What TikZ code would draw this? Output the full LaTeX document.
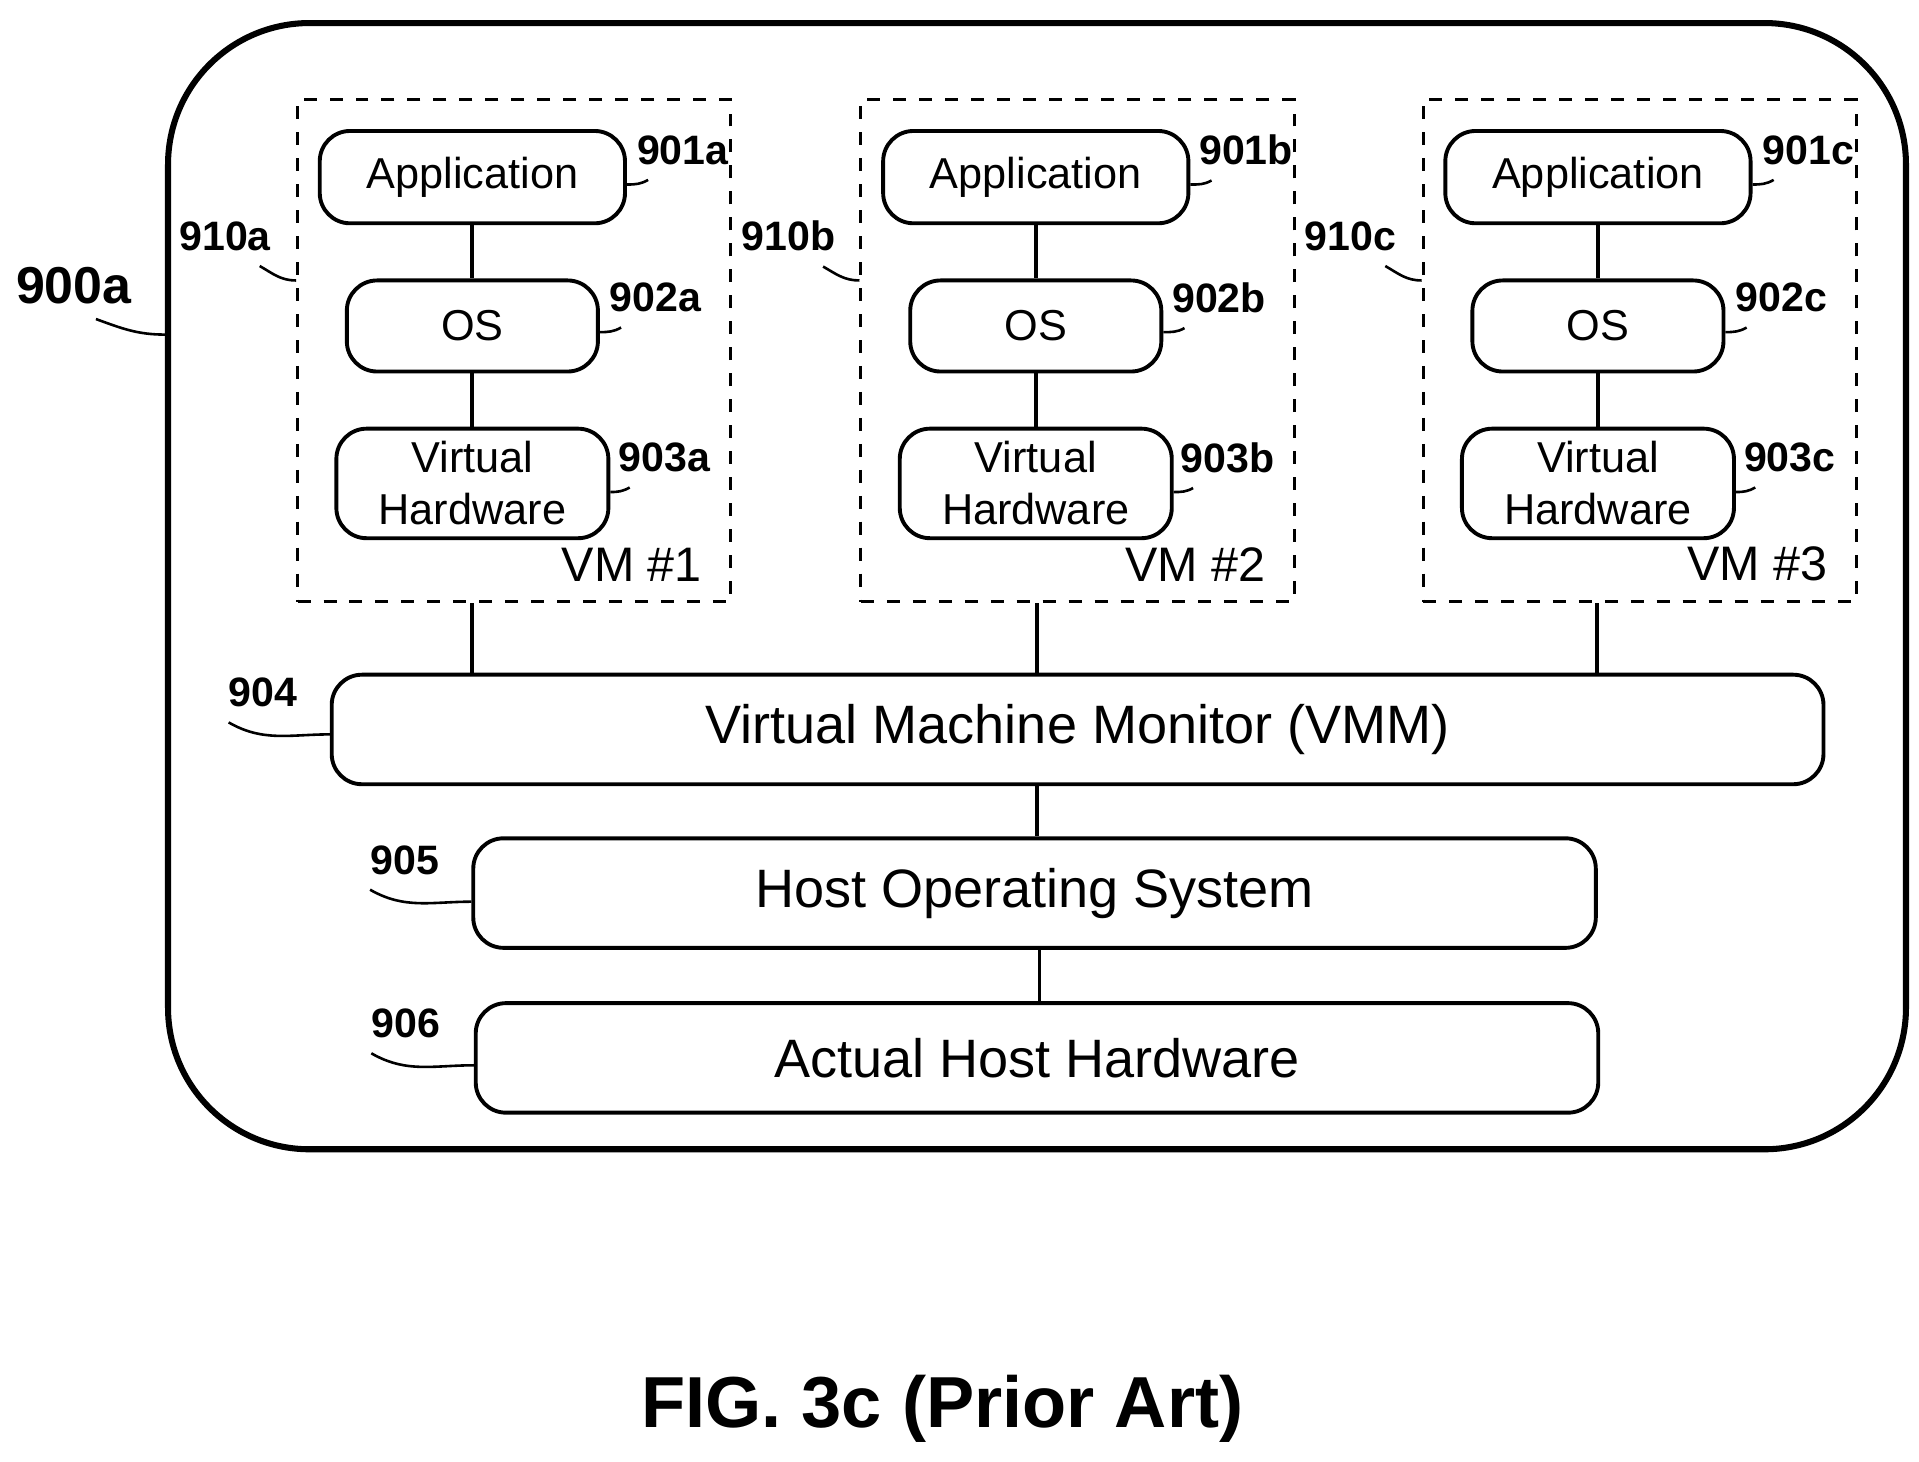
\documentclass[tikz,border=0pt]{standalone}
\usepackage{fontspec}
\setmainfont{Liberation Sans}
\begin{document}
\begin{tikzpicture}[
    x=0.01cm, y=-0.01cm,
    box/.style={draw, rounded corners=7pt, line width=0.9pt, align=center, inner sep=0pt},
    vm/.style={draw, dashed, line width=0.7pt, inner sep=0pt},
    ref/.style={font=\bfseries\fontsize{9.5}{11}\selectfont},
    lead/.style={line width=0.6pt}
]
\useasboundingbox (0,0) rectangle (1560,1188);

% Outer host box
\node[draw, line width=1.4pt, rounded corners=1.15cm, inner sep=0pt,
      minimum width=14.12cm, minimum height=9.15cm] (host) at (843,476.5) {};
\node[font=\bfseries\fontsize{12}{14}\selectfont] (l900) at (60,232) {900a};
\draw[lead] ([xshift=22]l900.south west) to[out=-20,in=180] (host.west |- 0,272);

% Virtual machines
\foreach \v/\dx/\n in {a/0/1, b/458/2, c/915/3} {
  \node[vm, minimum width=3.52cm, minimum height=4.08cm] (vm\v) at (418+\dx,285) {};
  \node[anchor=south east, font=\fontsize{11.2}{13}\selectfont] (vmlab\v) at (583+\dx,485) {VM \#\n};
  \node[box, minimum width=2.48cm, minimum height=0.75cm] (app\v) at (384+\dx,144) {Application};
  \node[box, minimum width=2.04cm, minimum height=0.74cm] (os\v) at (384+\dx,265) {OS};
  \node[box, minimum width=2.21cm, minimum height=0.89cm] (hw\v) at (384+\dx,393) {Virtual\\Hardware};
  \draw[line width=0.9pt] (app\v) -- (os\v);
  \draw[line width=0.9pt] (os\v) -- (hw\v);
  % reference numerals
  \node[ref] (r901\v) at (555+\dx,122) {901\v};
  \draw[lead] (app\v.east |- 0,150) to[out=0,in=210] ([xshift=-8]r901\v.south);
  \node[ref] (r902\v) at (533+\dx,242) {902\v};
  \draw[lead] (os\v.east |- 0,270) to[out=0,in=210] ([xshift=-8]r902\v.south);
  \node[ref] (r903\v) at (540+\dx,372) {903\v};
  \draw[lead] (hw\v.east |- 0,400) to[out=0,in=210] ([xshift=-8]r903\v.south);
  \node[ref] (r910\v) at (183+\dx,192) {910\v};
  \draw[lead] ([xshift=8]r910\v.south) to[out=-30,in=180] (vm\v.west |- 0,228);
}

% Lower layers
\node[box, minimum width=12.12cm, minimum height=0.89cm, font=\fontsize{12.5}{15}\selectfont] (vmm) at (876,593) {Virtual Machine Monitor (VMM)};
\node[box, minimum width=9.12cm, minimum height=0.89cm, font=\fontsize{12.5}{15}\selectfont] (hos) at (841,726) {Host Operating System};
\node[box, minimum width=9.12cm, minimum height=0.89cm, font=\fontsize{12.5}{15}\selectfont] (ahw) at (843,860) {Actual Host Hardware};

\foreach \v/\x in {a/384, b/843, c/1298}
  \draw[line width=0.9pt] (vm\v.south -| \x,0) -- (vmm.north -| \x,0);
\draw[line width=0.9pt] (vmm.south -| 843,0) -- (hos.north -| 843,0);
\draw[line width=0.9pt] (hos.south -| 845,0) -- (ahw.north -| 845,0);

\node[ref] (r904) at (214,563) {904};
\draw[lead] ([xshift=-8]r904.south) to[out=-30,in=180] (vmm.west |- 0,597);
\node[ref] (r905) at (329,699) {905};
\draw[lead] ([xshift=-8]r905.south) to[out=-30,in=180] (hos.west |- 0,733);
\node[ref] (r906) at (330,832) {906};
\draw[lead] ([xshift=-8]r906.south) to[out=-30,in=180] (ahw.west |- 0,866);

% Caption
\node[font=\bfseries\fontsize{16.7}{20}\selectfont] (cap) at (766,1145) {FIG. 3c (Prior Art)};
\end{tikzpicture}
\end{document}
